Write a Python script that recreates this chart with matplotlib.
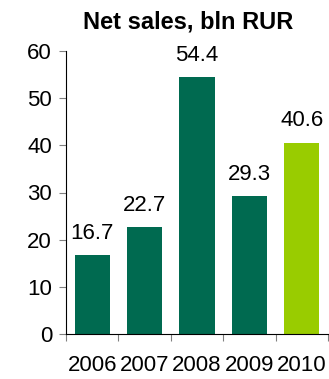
import matplotlib
matplotlib.use("Agg")
import matplotlib.pyplot as plt
import numpy as np

years = ["2006", "2007", "2008", "2009", "2010"]
values = [16.7, 22.7, 54.4, 29.3, 40.6]
colors = ["#006A50", "#006A50", "#006A50", "#006A50", "#99CC00"]
yticks = [0, 10, 20, 30, 40, 50, 60]

plt.rcParams['font.family'] = ['Liberation Sans', 'DejaVu Sans']

fig = plt.figure(figsize=(3.29, 3.79), dpi=100)
ax = fig.add_axes([66/329, 1-334/379, (328-66)/329, (334-51)/379])

x = np.arange(len(years))
ax.bar(x, values, width=0.67, color=colors)
for xi, v in zip(x, values):
    ax.annotate(f"{v:.1f}", (xi, v), xytext=(0, 8), textcoords="offset points",
                ha="center", va="bottom", fontsize=16)

ax.set_xlim(-0.5, len(years) - 0.5)
ax.set_ylim(0, 60)
ax.set_yticks(yticks)
ax.set_yticklabels([str(t) for t in yticks], fontsize=16)
ax.tick_params(axis='y', length=5, color='#808080', pad=5)

ax.set_xticks(np.arange(len(years) + 1) - 0.5)
ax.set_xticklabels([])
ax.tick_params(axis='x', which='major', length=5, color='#808080')
ax.set_xticks(x, minor=True)
ax.set_xticklabels(years, minor=True, fontsize=16)
ax.tick_params(axis='x', which='minor', length=0, pad=15)

for s in ['top', 'right']:
    ax.spines[s].set_visible(False)
ax.spines['left'].set_color('black')
ax.spines['bottom'].set_color('black')

fig.text(0.572, 1-22/379, "Net sales, bln RUR", ha="center", va="center",
         fontsize=17, fontweight="bold")

fig.savefig("out.png", dpi=100)
